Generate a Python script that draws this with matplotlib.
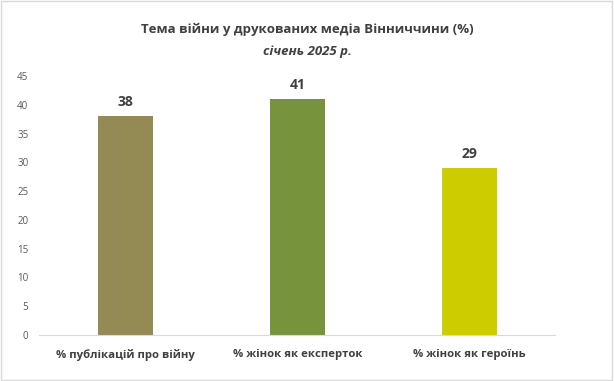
import matplotlib.pyplot as plt

categories = ["% публікацій про війну", "% жінок як експерток", "% жінок як героїнь"]
values = [38, 41, 29]
colors = ["#948A54", "#77933C", "#CCCC00"]

plt.rcParams['font.family'] = ['Open Sans', 'DejaVu Sans']

fig = plt.figure(figsize=(6.14, 3.81), dpi=100)
ax = fig.add_axes([0.0643, 0.1207, 0.8404, 0.6798])

x = range(len(categories))
bars = ax.bar(x, values, width=0.32, color=colors)
for b, v in zip(bars, values):
    ax.text(b.get_x() + b.get_width() / 2, v + 1.2, str(v), ha="center", va="bottom",
            fontsize=10, fontweight="bold", color="#404040")

ax.set_xlim(-0.5, 2.5)
ax.set_ylim(0, 45)
ax.set_yticks(range(0, 46, 5))
ax.set_xticks(list(x))
ax.set_xticklabels(categories, fontsize=8.2, fontweight="bold", color="#404040")
ax.tick_params(axis="y", length=0, labelsize=7, labelcolor="#595959", pad=8)
ax.tick_params(axis="x", length=0, pad=10)
for s in ["top", "right", "left"]:
    ax.spines[s].set_visible(False)
ax.spines["bottom"].set_color("#D9D9D9")

fig.text(0.5, 0.924, "Тема війни у друкованих медіа Вінниччини (%)", ha="center", va="center",
         fontsize=9.5, fontweight="bold", color="#404040")
fig.text(0.5, 0.864, "січень 2025 р.", ha="center", va="center",
         fontsize=9.5, fontweight="bold", fontstyle="italic", color="#404040")

fig.patches.append(plt.Rectangle((0.002, 0.003), 0.995, 0.994, transform=fig.transFigure,
                                 fill=False, edgecolor="#D9D9D9", linewidth=1))

fig.savefig("out.png", dpi=100)
